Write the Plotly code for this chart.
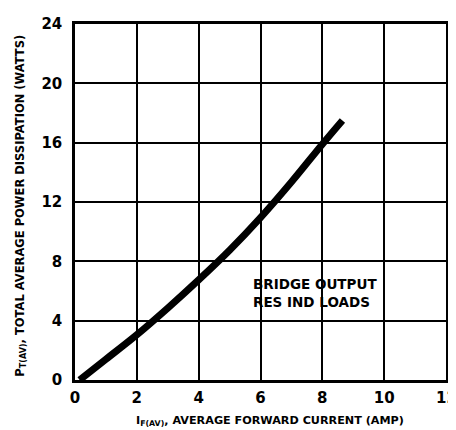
import plotly.graph_objects as go

# Data
current_amp = [0.15, 1, 2, 3, 4, 5, 6, 7, 8, 8.65]
power_watts = [0.0, 1.4, 3.05, 4.85, 6.75, 8.75, 10.95, 13.35, 15.9, 17.5]

x_ticks = [0, 2, 4, 6, 8, 10, 12]
y_ticks = [0, 4, 8, 12, 16, 20, 24]

label_lines = ["BRIDGE OUTPUT", "RES IND LOADS"]
label_x = 5.68
label_y = [6.5, 5.25]

x_title = "<b>I<sub>F(AV)</sub>, AVERAGE FORWARD CURRENT (AMP)</b>"
y_title = "<b>P<sub>T(AV)</sub>, TOTAL AVERAGE POWER DISSIPATION (WATTS)</b>"

FONT = "DejaVu Sans"
tick_font = dict(family=FONT, size=15, color="black", weight="bold")

fig = go.Figure()
fig.add_trace(go.Scatter(
    x=current_amp, y=power_watts, mode="lines",
    line=dict(color="black", width=7, shape="spline", smoothing=1),
    showlegend=False, hoverinfo="skip",
))

for txt, yy in zip(label_lines, label_y):
    fig.add_annotation(
        x=label_x, y=yy, text="<b>" + txt + "</b>", showarrow=False,
        xanchor="left", yanchor="middle",
        font=dict(family=FONT, size=13.5, color="black"),
    )

# last x tick label sits at the page edge (plotly would hide it)
fig.add_annotation(
    x=x_ticks[-1], y=0, text=str(x_ticks[-1]), showarrow=False,
    xanchor="center", yanchor="middle", yshift=-18,
    font=tick_font,
)

fig.add_annotation(
    xref="paper", yref="paper", x=0.525, y=-0.115, text=x_title,
    showarrow=False, xanchor="center", yanchor="middle",
    font=dict(family=FONT, size=11.2, color="black"),
)
fig.add_annotation(
    xref="paper", yref="paper", x=-0.148, y=0.49, text=y_title,
    showarrow=False, xanchor="center", yanchor="middle", textangle=-90,
    font=dict(family=FONT, size=11.5, color="black"),
)

axis_common = dict(
    showgrid=True, gridcolor="black", gridwidth=2,
    showline=True, linecolor="black", linewidth=2.5, mirror=True,
    zeroline=False, ticks="",
    tickfont=tick_font,
)

fig.update_xaxes(
    range=[0, 12], tickvals=x_ticks[:-1], ticktext=[str(v) for v in x_ticks[:-1]],
    ticklabelstandoff=2,
    **axis_common,
)
fig.update_yaxes(
    range=[0, 24], tickvals=y_ticks, ticktext=[str(v) for v in y_ticks],
    ticklabelstandoff=7,
    **axis_common,
)

# page body has an 8px default margin, so the figure is sized to fit the window
fig.update_layout(
    width=448, height=422,
    margin=dict(l=67, r=7, t=7, b=50),
    paper_bgcolor="white", plot_bgcolor="white",
)

fig.write_html("out.html")
